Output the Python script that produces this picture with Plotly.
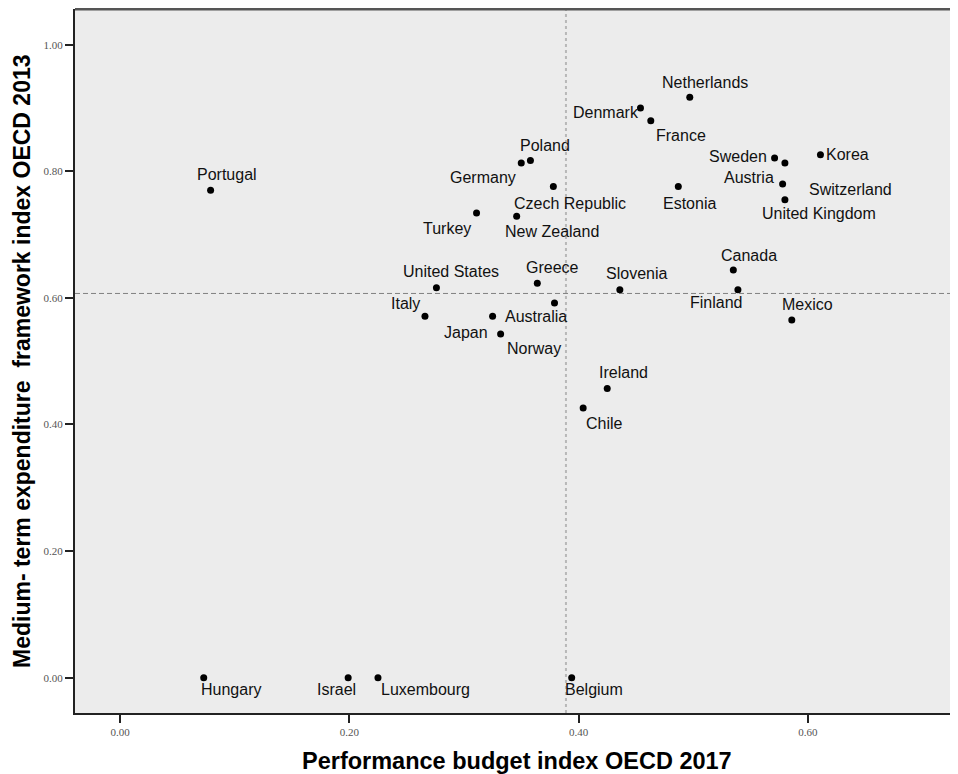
import plotly.graph_objects as go

# ---- data ----
countries = ["Portugal", "Hungary", "Israel", "Luxembourg", "Belgium",
             "Netherlands", "Denmark", "France", "Poland", "Germany",
             "Czech Republic", "Turkey", "New Zealand", "Sweden", "Switzerland",
             "Korea", "Austria", "United Kingdom", "Estonia", "Canada",
             "Finland", "Mexico", "United States", "Greece", "Slovenia",
             "Italy", "Japan", "Australia", "Norway", "Ireland", "Chile"]
perf_budget_2017 = [0.079, 0.073, 0.199, 0.225, 0.394,
                    0.497, 0.454, 0.463, 0.358, 0.350,
                    0.378, 0.311, 0.346, 0.571, 0.580,
                    0.611, 0.578, 0.580, 0.487, 0.535,
                    0.539, 0.586, 0.276, 0.364, 0.436,
                    0.266, 0.325, 0.379, 0.332, 0.425, 0.404]
mtef_2013 = [0.770, 0.000, 0.000, 0.000, 0.000,
             0.917, 0.900, 0.880, 0.817, 0.813,
             0.776, 0.734, 0.729, 0.821, 0.813,
             0.826, 0.780, 0.755, 0.776, 0.644,
             0.613, 0.565, 0.616, 0.623, 0.613,
             0.571, 0.571, 0.592, 0.543, 0.457, 0.426]
# label offsets (pixels) of each country label from its point
label_dx = [16, 27, -12, 48, 22,
            15, -34, 30, 15, -38,
            17, -30, 35, -37, 66,
            27, -34, 34, 11, 16,
            -22, 16, 15, 15, 17,
            -19, -27, -19, 33, 16, 21]
label_dy = [-16, 12, 12, 12, 12,
            -15, 4, 15, -15, 14,
            17, 15, 15, -2, 26,
            0, -6, 14, 17, -15,
            13, -16, -16, -16, -16,
            -13, 16, 14, 15, -16, 15]
x_ref = 0.389
y_ref = 0.607
x_ticks = [0.0, 0.2, 0.4, 0.6]
y_ticks = [0.0, 0.2, 0.4, 0.6, 0.8, 1.0]
x_title = "Performance budget index OECD 2017"
y_title = "Medium- term expenditure  framework index OECD 2013"

fig = go.Figure()
fig.add_trace(go.Scatter(
    x=perf_budget_2017, y=mtef_2013, mode="markers",
    marker=dict(size=7, color="black"),
    text=countries, hoverinfo="text", showlegend=False,
))

fig.add_shape(type="line", xref="x", yref="paper", x0=x_ref, x1=x_ref, y0=0, y1=1,
              line=dict(color="#b8b8b8", width=2, dash="3px,3px"), layer="below")
fig.add_shape(type="line", xref="paper", yref="y", x0=0, x1=1, y0=y_ref, y1=y_ref,
              line=dict(color="#808080", width=1, dash="5px,3px"), layer="below")
# top frame line (plot area continues past the right edge)
fig.add_shape(type="line", xref="paper", yref="paper", x0=0, x1=1.02, y0=1, y1=1,
              line=dict(color="#555", width=3))

annotations = []
for name, xv, yv, dx, dy in zip(countries, perf_budget_2017, mtef_2013, label_dx, label_dy):
    annotations.append(dict(
        x=xv, y=yv, xref="x", yref="y", text=name, showarrow=False,
        xanchor="center", yanchor="middle", xshift=dx, yshift=-dy,
        font=dict(family="Liberation Sans, Arial", size=16, color="#111"),
    ))
annotations.append(dict(
    x=0.5, y=0, xref="paper", yref="paper", text="<b>" + x_title + "</b>",
    showarrow=False, xanchor="center", yanchor="middle", yshift=-48,
    font=dict(family="Liberation Sans, Arial", size=23.5, color="black"),
))
annotations.append(dict(
    x=0, y=0.5, xref="paper", yref="paper", text="<b>" + y_title + "</b>",
    showarrow=False, xanchor="center", yanchor="middle", xshift=-53, textangle=-90,
    font=dict(family="Liberation Sans, Arial", size=23, color="black"),
))

axis_common = dict(
    showgrid=False, zeroline=False, showline=True, mirror=False,
    linecolor="#222", linewidth=2,
    ticks="outside", ticklen=8, tickwidth=2, tickcolor="#222",
    tickformat=".2f",
    tickfont=dict(family="Liberation Serif, Times New Roman", size=11, color="#555"),
)

fig.update_layout(
    width=950, height=766,
    margin=dict(l=67, r=0, t=1, b=61),
    paper_bgcolor="white", plot_bgcolor="#ececec",
    xaxis=dict(range=[-0.0393, 0.731], tickvals=x_ticks, **axis_common),
    yaxis=dict(range=[-0.0558, 1.0564], tickvals=y_ticks, **axis_common),
    annotations=annotations,
)

fig.write_html("out.html")
